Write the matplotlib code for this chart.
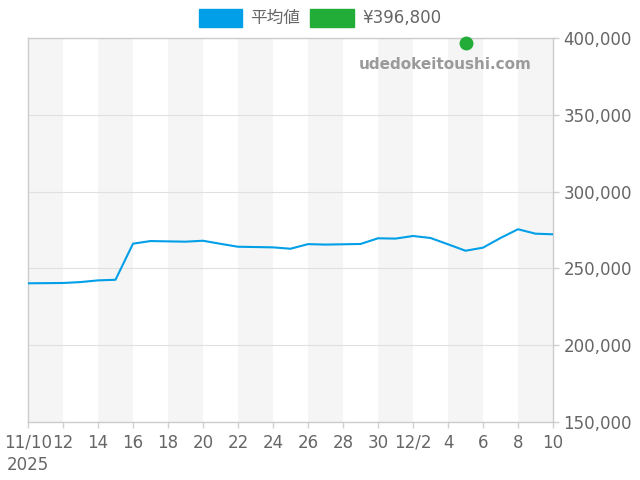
import numpy as np
import pandas as pd
import matplotlib
matplotlib.use("Agg")
import matplotlib.pyplot as plt
from matplotlib.patches import Patch

plt.rcParams['font.family'] = ['DejaVu Sans', 'Noto Sans CJK JP']

# daily average price, 2025-11-10 .. 2025-12-10
dates = pd.date_range("2025-11-10", "2025-12-10", freq="D")
avg = [240300, 240400, 240500, 241100, 242200, 242600, 266100, 267800, 267600, 267400,
       268000, 266000, 264100, 263900, 263700, 262800, 265800, 265500, 265700, 265900,
       269600, 269400, 271100, 269800, 265700, 261500, 263500, 269800, 275500, 272600,
       272200]
point_date = pd.Timestamp("2025-12-05")
point_val = 396800

tick_dates = pd.date_range("2025-11-10", "2025-12-10", freq="2D")
tick_labels = ["11/10", "12", "14", "16", "18", "20", "22", "24", "26", "28",
               "30", "12/2", "4", "6", "8", "10"]
year_label = "2025"
y_ticks = [150000, 200000, 250000, 300000, 350000, 400000]

BLUE = "#009FE8"; GREEN = "#22AC38"; GREY = "#666666"; EDGE = "#cccccc"

fig = plt.figure(figsize=(6.4, 4.8), dpi=100)
ax = fig.add_axes([28/640, 1-422/480, 525/640, 384/480])

# alternating shaded 2-day bands
for i in range(0, len(tick_dates)-1, 2):
    ax.axvspan(tick_dates[i], tick_dates[i+1], color="#f5f5f5", lw=0, zorder=0)

ax.plot(dates, avg, color=BLUE, lw=1.5, zorder=3)
ax.plot([point_date], [point_val], "o", color=GREEN, ms=9, zorder=4, clip_on=False)

ax.set_xlim(dates[0], dates[-1]); ax.set_ylim(150000, 400000)
ax.set_xticks(tick_dates); ax.set_xticklabels(tick_labels)
ax.yaxis.tick_right()
ax.set_yticks(y_ticks)
ax.set_yticklabels([f"{v:,}" for v in y_ticks])
ax.grid(axis="y", color="#e0e0e0", lw=0.8, zorder=1)
ax.tick_params(colors="#d0d0d0", labelcolor=GREY, labelsize=12, length=4, width=1)
ax.tick_params(axis="x", pad=14.5)
# align date labels on their baseline so "12/2" sits level with the rest
for lab in ax.get_xticklabels():
    lab.set_verticalalignment("baseline")
ax.annotate(year_label, xy=(dates[0], 0), xycoords=("data", "axes fraction"),
            xytext=(0, -48), textcoords="offset pixels", ha="center", va="baseline",
            fontsize=12, color=GREY, annotation_clip=False)
for sp in ax.spines.values():
    sp.set_color(EDGE); sp.set_linewidth(1)

ax.text(0.96, 0.93, "udedokeitoushi.com", transform=ax.transAxes, ha="right", va="center",
        fontsize=11, fontweight="bold", color="#9a9a9a", zorder=5)

handles = [Patch(color=BLUE, label="平均値"), Patch(color=GREEN, label="¥396,800")]
fig.legend(handles=handles, loc="center", bbox_to_anchor=(0.5, 1-18/480), ncol=2, frameon=False,
           fontsize=12, labelcolor=GREY, handlelength=2.6, handleheight=1.3, handletextpad=0.5,
           columnspacing=0.6)

fig.savefig("out.png", dpi=100)
